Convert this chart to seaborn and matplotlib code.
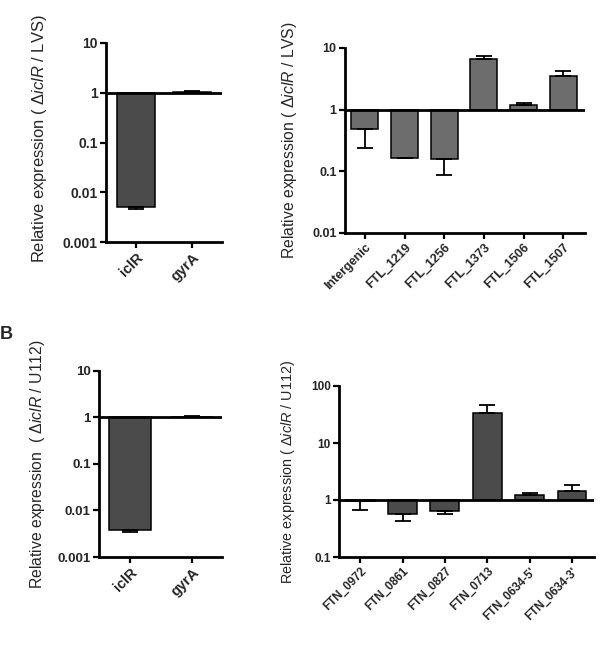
import numpy as np
import matplotlib
matplotlib.use('Agg')
import matplotlib.pyplot as plt
from matplotlib.ticker import NullLocator
import seaborn as sns

# qPCR fold changes (bar end, error bar end)
ctrl_genes = ['iclR', 'gyrA']
lvs_ctrl = [0.0050, 1.04]
lvs_ctrl_err = [0.0046, 1.08]

lvs_genes = ['Intergenic', 'FTL_1219', 'FTL_1256', 'FTL_1373', 'FTL_1506', 'FTL_1507']
lvs_vals = [0.49, 0.167, 0.156, 6.6, 1.17, 3.5]
lvs_err = [0.24, 0.163, 0.087, 7.5, 1.29, 4.3]

u112_ctrl = [0.0039, 1.05]
u112_ctrl_err = [0.0035, 1.10]

u112_genes = ['FTN_0972', 'FTN_0861', 'FTN_0827', 'FTN_0713', "FTN_0634-5'", "FTN_0634-3'"]
u112_vals = [0.97, 0.57, 0.63, 34, 1.21, 1.46]
u112_err = [0.67, 0.42, 0.57, 46, 1.35, 1.86]

sns.set_style('ticks')
plt.rcParams['font.family'] = ['Liberation Sans', 'DejaVu Sans']
plt.rcParams['mathtext.fontset'] = 'custom'
plt.rcParams['mathtext.rm'] = 'Liberation Sans'
plt.rcParams['mathtext.it'] = 'Liberation Sans:italic'

W, H = 603, 647
fig = plt.figure(figsize=(W / 100, H / 100), dpi=100)


def panel(box, genes, vals, errs, ylim, color, ylabel, lab_xy, xlim,
          tick_fs, cat_fs, lab_fs):
    l, t, r, b = box
    ax = fig.add_axes([l / W, 1 - b / H, (r - l) / W, (b - t) / H])
    vals = np.array(vals, dtype=float)
    errs = np.array(errs, dtype=float)
    # bars grow from 1 (no change) up or down
    sns.barplot(x=genes, y=vals - 1, bottom=1, color=color, saturation=1,
                width=0.68, edgecolor='black', linewidth=1.1, errorbar=None, ax=ax)
    ax.set_yscale('log')
    lo = np.where(errs < vals, vals - errs, 0)
    hi = np.where(errs > vals, errs - vals, 0)
    ax.errorbar(np.arange(len(genes)), vals, yerr=[lo, hi], fmt='none',
                ecolor='black', elinewidth=1.3, capsize=5.5, capthick=1.3, zorder=1)
    ax.axhline(1, color='black', lw=2, zorder=4)

    ax.set_ylim(ylim)
    ax.set_xlim(xlim)
    ticks = [10.0 ** k for k in range(int(np.log10(ylim[0])), int(np.log10(ylim[1])) + 1)]
    ax.set_yticks(ticks)
    ax.set_yticklabels([f'{v:g}' for v in ticks], fontsize=tick_fs, fontweight='bold')
    ax.yaxis.set_minor_locator(NullLocator())
    ax.set_xticks(range(len(genes)))
    ax.set_xticklabels(genes, rotation=45, ha='right', rotation_mode='anchor',
                       fontsize=cat_fs, fontweight='bold')
    ax.tick_params(axis='both', length=4, width=1.6, pad=2, color='black')
    for s in ['top', 'right']:
        ax.spines[s].set_visible(False)
    for s in ['left', 'bottom']:
        ax.spines[s].set_linewidth(2)
        ax.spines[s].set_color('black')
    ax.set_xlabel('')
    ax.set_ylabel(ylabel, fontsize=lab_fs)
    ax.yaxis.set_label_coords(*lab_xy)
    return ax


panel((106, 43, 222, 242), ctrl_genes, lvs_ctrl, lvs_ctrl_err, (0.001, 10), '#4b4b4b',
      r'Relative expression ( $\mathit{\Delta iclR}$ / LVS)', (-0.49, 0.52),
      (-0.54, 1.54), 10, 10.5, 11.9)
panel((345, 48, 585, 233), lvs_genes, lvs_vals, lvs_err, (0.01, 10), '#6d6d6d',
      r'Relative expression ( $\mathit{\Delta iclR}$ / LVS)', (-0.19, 0.5),
      (-0.5, 5.55), 9, 9, 11.3)
panel((99, 371, 222, 557), ctrl_genes, u112_ctrl, u112_ctrl_err, (0.001, 10), '#4b4b4b',
      r'Relative expression  ( $\mathit{\Delta iclR}$ / U112)', (-0.42, 0.5),
      (-0.5, 1.48), 9.5, 10.5, 11.3)
panel((339, 386, 594, 557), u112_genes, u112_vals, u112_err, (0.1, 100), '#4b4b4b',
      r'Relative expression ( $\mathit{\Delta iclR}$ / U112)', (-0.165, 0.5),
      (-0.5, 5.52), 8.5, 8.5, 10.4)

fig.text(6 / W, 1 - 334 / H, 'B', fontsize=13, fontweight='bold', ha='center', va='center')

fig.savefig('out.png', dpi=100, facecolor='white')
